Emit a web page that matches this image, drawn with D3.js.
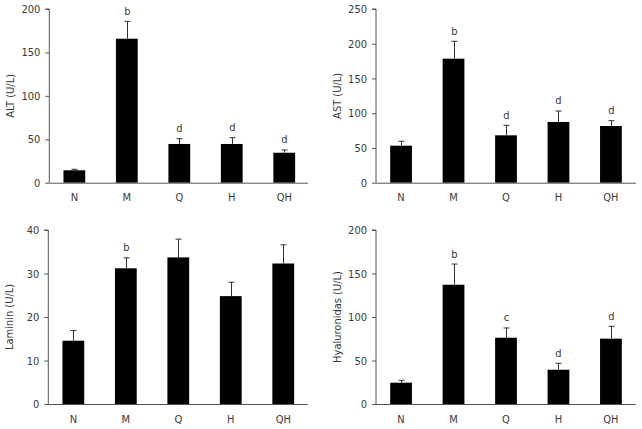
<!DOCTYPE html>
<html><head><meta charset="utf-8">
<script src="https://cdn.jsdelivr.net/npm/d3@7"></script>
<style>
body{margin:0;background:#fff;}
svg{display:block;}
text{font-family:Tahoma,"DejaVu Sans Condensed","DejaVu Sans",sans-serif;font-size:11px;fill:#3a3a3a;}
</style></head><body>
<svg id="c" width="642" height="429"></svg>
<script>
const groups = ["N","M","Q","H","QH"];

const altMean = [14.3, 165.8, 44.6, 44.6, 34.5];
const altErr  = [1.1, 20.0, 6.1, 7.2, 3.2];
const altSig  = ["", "b", "d", "d", "d"];
const altTicks = [0, 50, 100, 150, 200];

const astMean = [53.3, 178.5, 68.2, 87.4, 81.6];
const astErr  = [6.3, 25.0, 14.4, 15.8, 7.7];
const astSig  = ["", "b", "d", "d", "d"];
const astTicks = [0, 50, 100, 150, 200, 250];

const lamMean = [14.55, 31.2, 33.7, 24.8, 32.3];
const lamErr  = [2.35, 2.4, 4.2, 3.2, 4.3];
const lamSig  = ["", "b", "", "", ""];
const lamTicks = [0, 10, 20, 30, 40];

const hyaMean = [24.5, 137.1, 76.2, 39.4, 75.1];
const hyaErr  = [2.7, 23.8, 11.2, 7.4, 14.2];
const hyaSig  = ["", "b", "c", "d", "d"];
const hyaTicks = [0, 50, 100, 150, 200];

const panels = [
  {label:"ALT (U/L)", mean:altMean, err:altErr, sig:altSig, ticks:altTicks, x0:49.3, x1:308, top:9, bottom:182.7, lx:10},
  {label:"AST (U/L)", mean:astMean, err:astErr, sig:astSig, ticks:astTicks, x0:376, x1:636, top:9, bottom:182.7, lx:337},
  {label:"Laminin (U/L)", mean:lamMean, err:lamErr, sig:lamSig, ticks:lamTicks, x0:48.3, x1:308, top:230, bottom:404, lx:9},
  {label:"Hyaluronidas (U/L)", mean:hyaMean, err:hyaErr, sig:hyaSig, ticks:hyaTicks, x0:376, x1:636, top:230, bottom:404, lx:337}
];

const svg = d3.select("#c");
const axisColor = "#555";

panels.forEach(p => {
  const g = svg.append("g");
  const y = d3.scaleLinear().domain([0, d3.max(p.ticks)]).range([p.bottom, p.top]);
  const x = d3.scaleBand().domain(groups).range([p.x0, p.x0 + 5*52]).paddingInner(0.585).paddingOuter(0.27);

  // y axis
  const ya = g.append("g").attr("transform", `translate(${p.x0},0)`)
    .call(d3.axisLeft(y).tickValues(p.ticks).tickSize(4).tickPadding(5).tickFormat(d3.format("d")));
  ya.select(".domain").attr("stroke", axisColor).attr("d", `M-4,${y(d3.max(p.ticks))}H0V${p.bottom}`);
  ya.selectAll(".tick line").attr("stroke", axisColor);
  ya.selectAll(".tick text").style("fill","#3a3a3a").style("font-family",'Tahoma,"DejaVu Sans Condensed","DejaVu Sans",sans-serif').style("font-size","11px");

  // bars
  g.selectAll("rect.bar").data(groups).enter().append("rect")
    .attr("x", d => x(d)).attr("width", x.bandwidth())
    .attr("y", (d,i) => y(p.mean[i])).attr("height", (d,i) => p.bottom - y(p.mean[i]))
    .attr("fill", "#000");

  // error bars
  groups.forEach((d,i) => {
    const cx = Math.round(x(d) + x.bandwidth()/2) + 0.5;
    const yt = y(p.mean[i] + p.err[i]);
    g.append("line").attr("x1", cx).attr("x2", cx).attr("y1", y(p.mean[i])).attr("y2", yt).attr("stroke", "#333").attr("stroke-width", 1);
    g.append("line").attr("x1", cx-3).attr("x2", cx+3).attr("y1", yt).attr("y2", yt).attr("stroke", "#333").attr("stroke-width", 1);
    if (p.sig[i]) {
      g.append("text").attr("x", cx).attr("y", yt - 6.5).attr("text-anchor","middle").text(p.sig[i]);
    }
  });

  // x axis line
  g.append("line").attr("x1", p.x0).attr("x2", p.x1).attr("y1", p.bottom+0.5).attr("y2", p.bottom+0.5).attr("stroke", axisColor);

  // x labels
  g.selectAll("text.xl").data(groups).enter().append("text")
    .attr("x", d => x(d) + x.bandwidth()/2).attr("y", p.bottom + 18.5)
    .attr("text-anchor","middle").text(d => d);

  // y label
  g.append("text").attr("transform", `translate(${p.lx},${(p.top+p.bottom)/2}) rotate(-90)`)
    .attr("text-anchor","middle").attr("dy","0.35em").text(p.label);
});
</script>
</body></html>
